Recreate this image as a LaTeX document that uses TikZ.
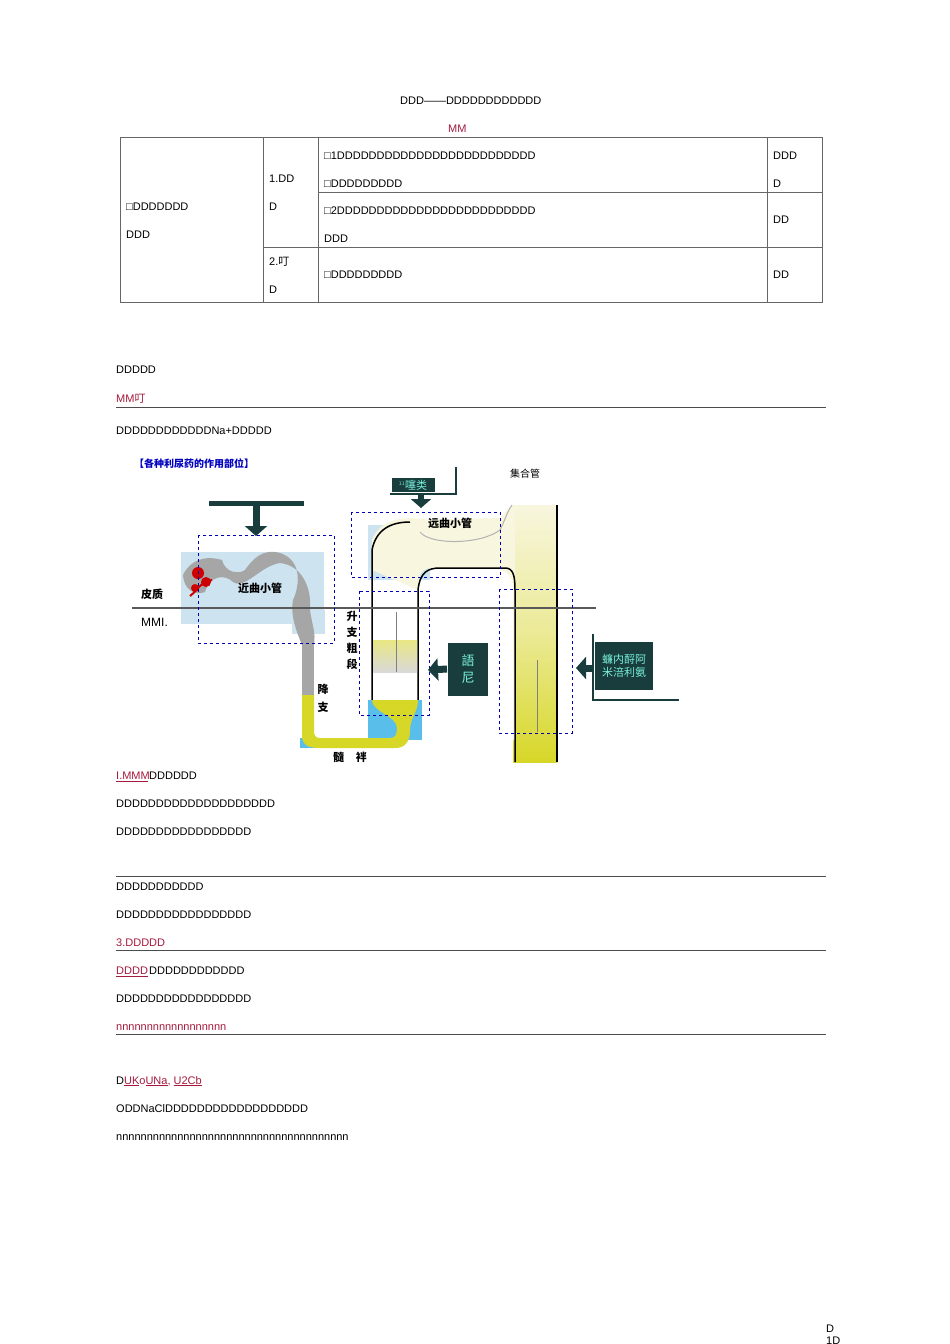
\documentclass[tikz,border=0pt]{standalone}
\usepackage{fontspec}
\setmainfont{Liberation Sans}
\newfontfamily\cjk{Noto Sans CJK SC}
\usetikzlibrary{arrows.meta,positioning}
\definecolor{docred}{RGB}{165,25,60}
\definecolor{labteal}{RGB}{25,60,60}
\definecolor{labtext}{RGB}{120,240,220}
\definecolor{paleblue}{RGB}{205,228,240}
\definecolor{skyblue}{RGB}{90,190,235}
\definecolor{tubyellow}{RGB}{215,215,40}
\definecolor{cream}{RGB}{248,246,222}
\begin{document}
\begin{tikzpicture}[x=1pt,y=-1pt,
    txt/.style={anchor=base west,inner sep=0pt,font=\fontsize{11}{12}\selectfont},
    red/.style={txt,text=docred},
    cell/.style={txt},
    rule/.style={draw=black!70,line width=0.6pt},
    zone/.style={draw=blue!70!black,dashed,line width=0.8pt},
    cn/.style={inner sep=0pt,font=\cjk\bfseries\fontsize{11}{12}\selectfont},
    drug/.style={fill=labteal,text=labtext,inner sep=2pt,font=\cjk\fontsize{11}{13}\selectfont,align=left},
    bigarrow/.style={-{Triangle[width=22pt,length=10pt]},line width=7pt,draw=labteal}]
\useasboundingbox (0,0) rectangle (950,1344);
% heading and table
\node[txt] (head) at (400,104) {DDD——DDDDDDDDDDDD};
\node[red] (mm) at (448,132) {MM};
\draw[black!60] (120,137) rectangle (822,302);
\draw[black!60] (263,137) -- (263,302) (318,137) -- (318,302) (767,137) -- (767,302);
\draw[black!60] (318,192) -- (822,192) (263,247) -- (822,247);
\node[cell] (c1) at (126,210) {□DDDDDDD};
\node[cell] (c1b) at (126,238) {DDD};
\node[cell] (c2) at (269,182) {1.DD};
\node[cell] (c2b) at (269,210) {D};
\node[cell] (c3) at (269,265) {2.{\cjk 叮}};
\node[cell] (c3b) at (269,293) {D};
\node[cell] (r1) at (324,159) {□1DDDDDDDDDDDDDDDDDDDDDDDDD};
\node[cell] (r1b) at (324,187) {□DDDDDDDDD};
\node[cell] (r2) at (324,214) {□2DDDDDDDDDDDDDDDDDDDDDDDDD};
\node[cell] (r2b) at (324,242) {DDD};
\node[cell] (r3) at (324,278) {□DDDDDDDDD};
\node[cell] (e1) at (773,159) {DDD};
\node[cell] (e1b) at (773,187) {D};
\node[cell] (e2) at (773,223) {DD};
\node[cell] (e3) at (773,278) {DD};
% text above the figure
\node[txt] (p1) at (116,373) {DDDDD};
\node[red] (p2) at (116,402) {MM{\cjk 叮}};
\draw[rule] (116,407) -- (826,407);
\node[txt] (p3) at (116,434) {DDDDDDDDDDDDNa+DDDDD};
% figure
\begin{scope}
\clip (120,458) rectangle (700,770);
\node[anchor=west,text=blue!75!black,inner sep=0pt,font=\cjk\bfseries\fontsize{10}{10}\selectfont] (ftitle) at (134,464) {【各种利尿药的作用部位】};
\node[anchor=west,inner sep=0pt,font=\cjk\fontsize{10}{10}\selectfont] (duct) at (510,474) {集合管};
\end{scope}
\fill[paleblue] (181,552) rectangle (324,624);
\fill[paleblue] (292,610) rectangle (325,634);
\fill[paleblue] (368,525) rectangle (430,580);
% collecting duct
\shade[top color=cream,bottom color=tubyellow,middle color=cream!60!tubyellow] (513,505) rectangle (557,762);
\draw[line width=1.8pt] (557,505) -- (557,762);
% distal tubule
\fill[cream] (372,570) -- (372,540) .. controls (380,520) and (400,515) .. (430,520) -- (500,518) .. controls (508,508) and (512,505) .. (515,505) -- (515,740) -- (513,740) -- (513,590) .. controls (513,570) and (500,567) .. (480,568) -- (430,568) .. controls (420,570) and (418,575) .. (418,590) -- cycle;
\draw[gray!60,line width=1pt] (420,532) .. controls (430,545) and (480,545) .. (500,530) .. controls (505,520) and (508,510) .. (512,505);
\draw[line width=1.5pt] (372,725) -- (372,550) .. controls (376,530) and (390,522) .. (410,522);
\draw[line width=1.5pt] (418,725) -- (418,590) .. controls (420,572) and (428,568) .. (440,568) -- (505,568) .. controls (513,568) and (515,575) .. (515,590) -- (515,762);
\fill[white] (373,620) rectangle (417,700);
\shade[top color=tubyellow!50!cream,bottom color=gray!30] (373,640) rectangle (417,672);
\draw[gray] (396,612) -- (396,672) (537,660) -- (537,732);
% loop
\fill[skyblue] (368,700) rectangle (422,740);
\fill[skyblue] (300,738) rectangle (330,748);
\fill[tubyellow] (302,695) -- (302,735) .. controls (302,745) and (308,748) .. (320,748) -- (395,748) .. controls (405,748) and (410,742) .. (410,730) .. controls (410,718) and (418,712) .. (418,700) -- (372,700) .. controls (372,712) and (397,716) .. (397,728) .. controls (397,735) and (395,738) .. (390,738) -- (320,738) .. controls (315,738) and (314,735) .. (314,730) -- (314,695) -- cycle;
\fill[gray!70] (302,695) -- (302,645) -- (314,645) -- (314,695) -- cycle;
% proximal tubule
\fill[gray!70] (302,645) .. controls (296,630) and (290,615) .. (293,600) .. controls (300,585) and (302,560) .. (280,553) .. controls (262,548) and (252,560) .. (245,570) .. controls (238,575) and (225,572) .. (222,560) .. controls (205,555) and (190,560) .. (183,575) .. controls (184,590) and (195,596) .. (205,592) .. controls (210,575) and (225,574) .. (233,582) .. controls (245,590) and (260,566) .. (280,563) .. controls (300,565) and (312,585) .. (310,610) .. controls (312,625) and (316,632) .. (314,645) -- cycle;
\fill[red!80!black] (198,573) circle (6) (206,582) circle (5) (195,588) circle (4);
\draw[red!80!black,line width=2pt] (190,596) .. controls (198,590) and (200,582) .. (212,580);
% section line
\draw[gray!70!black,line width=1.2pt] (132,608) -- (596,608);
% zones
\draw[zone] (198,535) rectangle (334,643);
\draw[zone] (351,512) rectangle (500,577);
\draw[zone] (359,591) rectangle (429,715);
\draw[zone] (499,589) rectangle (572,733);
% labels
\node[cn] (pz) at (152,594) {皮质};
\node[anchor=west,inner sep=0pt,font=\fontsize{12}{12}\selectfont] (mml) at (141,622) {MMI.};
\node[cn] (prox) at (260,588) {近曲小管};
\node[cn] (dist) at (450,523) {远曲小管};
\node[cn,align=center] (asc) at (352,640) {升\\[4pt]支\\[4pt]粗\\[4pt]段};
\node[cn,align=center] (desc) at (323,698) {降\\[6pt]支};
\node[cn] (loop) at (350,757) {髓\hspace{12pt}袢};
% drug labels and arrows
\draw[labteal,line width=5pt] (209,503) -- (304,503);
\draw[bigarrow] (256,503) -- (256,536);
\node[drug,minimum width=43pt,minimum height=14pt,inner sep=1pt] (thz) at (413,485) {\textsuperscript{\tiny 11}噻类};
\draw[labteal,line width=2pt] (456,467) -- (456,494) -- (390,494);
\draw[-{Triangle[width=20pt,length=9pt]},line width=6pt,draw=labteal] (421,494) -- (421,508);
\node[drug,draw=white,line width=1pt,minimum width=41pt,minimum height=54pt,align=center,font=\cjk\fontsize{13}{17}\selectfont] (furo) at (468,669) {語\\尼};
\draw[bigarrow] (furo.west) -- (428,670);
\node[drug,minimum width=58pt,minimum height=48pt,anchor=north west] (spir) at (595,642) {蠊内酹阿\\米涪利氨};
\draw[labteal,line width=2pt] (593,634) -- (593,700) -- (679,700);
\draw[bigarrow] (594,668) -- (576,668);
% text below the figure
\node[red] (q1) at (116,779) {I.MMM};
\draw[docred] (116,781) -- (148,781);
\node[txt] (q1b) at (149,779) {DDDDDD};
\node[txt] (q2) at (116,807) {DDDDDDDDDDDDDDDDDDDD};
\node[txt] (q3) at (116,835) {DDDDDDDDDDDDDDDDD};
\draw[rule] (116,876) -- (826,876);
\node[txt] (q4) at (116,890) {DDDDDDDDDDD};
\node[txt] (q5) at (116,918) {DDDDDDDDDDDDDDDDD};
\node[red] (q6) at (116,946) {3.DDDDD};
\draw[rule] (116,950) -- (826,950);
\node[red] (q7) at (116,974) {DDDD};
\draw[docred] (116,976) -- (148,976);
\node[txt] (q7b) at (149,974) {DDDDDDDDDDDD};
\node[txt] (q8) at (116,1002) {DDDDDDDDDDDDDDDDD};
\node[red] (q9) at (116,1030) {nnnnnnnnnnnnnnnnnn};
\draw[rule] (116,1034) -- (826,1034);
\node[txt] (q10) at (116,1084) {D\textcolor{docred}{\underline{UK}o\underline{UNa}, \underline{U2Cb}}};
\node[txt] (q11) at (116,1112) {ODDNaClDDDDDDDDDDDDDDDDDD};
\begin{scope}
\clip (110,1128) rectangle (348,1139);
\node[txt] (q12) at (116,1140) {nnnnnnnnnnnnnnnnnnnnnnnnnnnnnnnnnnnnnnn};
\end{scope}
\node[txt] (foot) at (826,1332) {D};
\node[txt] (foot2) at (826,1344) {1D};
\end{tikzpicture}
\end{document}
